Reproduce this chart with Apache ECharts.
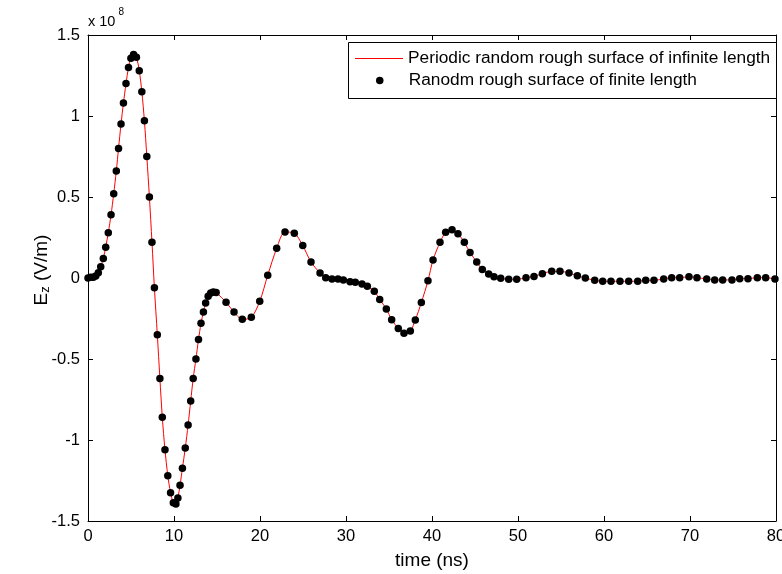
<!DOCTYPE html>
<html>
<head>
<meta charset="utf-8">
<title>E_z vs time</title>
<script src="https://cdn.jsdelivr.net/npm/echarts@6/dist/echarts.min.js"></script>
<style>
  html, body { margin: 0; padding: 0; background: #fff; }
  #chart { width: 782px; height: 574px; }
</style>
</head>
<body>
<div id="chart"></div>
<script>
// Sample times (ns)
const timeNs = [
  0, 0.31, 0.62, 0.9, 1.2, 1.48, 1.78, 2.06, 2.36, 2.68,
  2.99, 3.29, 3.55, 3.84, 4.12, 4.42, 4.71, 4.99, 5.3, 5.63,
  5.96, 6.26, 6.56, 6.84, 7.14, 7.44, 7.72, 8.06, 8.36, 8.64,
  8.95, 9.28, 9.6, 9.92, 10.22, 10.45, 10.7, 10.98, 11.31, 11.64,
  11.94, 12.23, 12.55, 12.85, 13.14, 13.42, 13.68, 13.97, 14.27, 14.57,
  14.9, 16.05, 16.98, 17.94, 18.99, 19.97, 20.9, 21.94, 22.91, 23.99,
  24.97, 25.93, 26.98, 27.64, 28.37, 29.07, 29.69, 30.47, 31.08, 31.86,
  32.48, 33.29, 33.92, 34.69, 35.31, 36.08, 36.74, 37.48, 38.06, 38.76,
  39.53, 40.12, 40.93, 41.59, 42.33, 43.02, 43.76, 44.42, 45.2, 45.85,
  46.59, 47.21, 47.99, 48.92, 49.85, 50.93, 51.86, 52.83, 53.92, 54.88,
  55.93, 56.9, 57.83, 58.92, 59.85, 60.81, 61.86, 62.87, 63.92, 64.85,
  65.81, 66.94, 67.87, 68.8, 69.88, 70.81, 71.94, 72.87, 73.8, 74.88,
  75.78, 76.74, 77.83, 78.8, 79.88
];

// E_z field, in units of 1e8 V/m
const ezE8 = [
  0, 0.004, 0.004, 0.012, 0.033, 0.07, 0.12, 0.19, 0.28, 0.39,
  0.52, 0.66, 0.80, 0.95, 1.08, 1.20, 1.30, 1.356, 1.38, 1.362,
  1.28, 1.15, 0.97, 0.75, 0.50, 0.22, -0.06, -0.35, -0.62, -0.86,
  -1.06, -1.22, -1.325, -1.387, -1.395, -1.358, -1.28, -1.175, -1.05, -0.907,
  -0.76, -0.62, -0.50, -0.38, -0.28, -0.21, -0.155, -0.113, -0.092, -0.086,
  -0.09, -0.15, -0.21, -0.255, -0.243, -0.144, 0.017, 0.183, 0.284, 0.276,
  0.20, 0.099, 0.031, 0.002, -0.006, -0.006, -0.012, -0.023, -0.026, -0.037,
  -0.051, -0.082, -0.132, -0.191, -0.257, -0.311, -0.341, -0.327, -0.259, -0.152,
  -0.017, 0.111, 0.220, 0.282, 0.298, 0.273, 0.220, 0.158, 0.099, 0.053,
  0.025, 0.008, -0.002, -0.008, -0.008, 0.002, 0.010, 0.027, 0.041, 0.041,
  0.031, 0.014, 0.0, -0.014, -0.02, -0.02, -0.02, -0.02, -0.02, -0.014,
  -0.014, -0.006, 0.002, 0.002, 0.008, 0.002, -0.006, -0.012, -0.012, -0.012,
  -0.004, -0.004, 0.002, 0.002, -0.006
];

const xTicks = [0, 10, 20, 30, 40, 50, 60, 70, 80];
const yTicks = [-1.5, -1, -0.5, 0, 0.5, 1, 1.5];

const seriesNames = [
  'Periodic random rough surface of infinite length',
  'Ranodm rough surface of finite length'
];

const points = timeNs.map((t, i) => [t, ezE8[i]]);

const FONT = 'Arial, "Liberation Sans", Helvetica, sans-serif';
const RED = '#ff0000';

const boxAxis = {
  axisLine: { show: true, onZero: false, lineStyle: { color: '#000', width: 1 } },
  axisTick: { show: true, inside: true, length: 5, lineStyle: { color: '#000' } },
  splitLine: { show: false }
};

const legendText = { fontSize: 17.3, fontFamily: FONT, color: '#000' };

const chart = echarts.init(document.getElementById('chart'), null, { renderer: 'canvas' });

chart.setOption({
  backgroundColor: '#fff',
  animation: false,
  textStyle: { fontFamily: FONT },
  grid: { left: 88, right: 6, top: 35, bottom: 53, containLabel: false, outerBoundsMode: 'none' },
  title: {
    text: '{a|x 10}{b|8}',
    left: 88,
    top: 7,
    padding: 0,
    textStyle: {
      fontWeight: 'normal',
      rich: {
        a: { fontSize: 14.5, fontWeight: 'normal', fontFamily: FONT, color: '#000', verticalAlign: 'bottom' },
        b: { fontSize: 10, fontWeight: 'normal', fontFamily: FONT, color: '#000', verticalAlign: 'top', padding: [0, 0, 12, 3] }
      }
    }
  },
  // legend frame
  graphic: [{
    type: 'rect',
    left: 348,
    top: 42,
    z: 10,
    shape: { width: 428, height: 56 },
    style: { fill: '#fff', stroke: '#000', lineWidth: 1 }
  }],
  legend: [
    {
      // line entry: thin red stroke
      orient: 'vertical',
      left: 355,
      top: 50,
      padding: 0,
      z: 20,
      itemWidth: 48,
      itemHeight: 1.2,
      textStyle: legendText,
      data: [{ name: seriesNames[0], icon: 'rect' }]
    },
    {
      // marker entry: black dot
      orient: 'vertical',
      left: 376,
      top: 72,
      padding: 0,
      z: 20,
      itemWidth: 48,
      itemHeight: 7.5,
      textStyle: legendText,
      data: [{ name: seriesNames[1], icon: 'circle' }]
    }
  ],
  xAxis: [
    Object.assign({
      type: 'value',
      min: xTicks[0],
      max: xTicks[xTicks.length - 1],
      interval: 10,
      position: 'bottom',
      name: 'time (ns)',
      nameLocation: 'middle',
      nameGap: 30,
      nameMoveOverlap: false,
      nameTextStyle: { fontSize: 19, fontFamily: FONT, color: '#000' },
      axisLabel: { show: true, margin: 7, fontSize: 16.5, fontFamily: FONT, color: '#000' }
    }, boxAxis),
    Object.assign({
      type: 'value',
      min: xTicks[0],
      max: xTicks[xTicks.length - 1],
      interval: 10,
      position: 'top',
      axisLabel: { show: false }
    }, boxAxis)
  ],
  yAxis: [
    Object.assign({
      type: 'value',
      min: yTicks[0],
      max: yTicks[yTicks.length - 1],
      interval: 0.5,
      position: 'left',
      name: '{e|E}{s|z}{a| (V/m)}',
      nameLocation: 'middle',
      nameGap: 36,
      nameMoveOverlap: false,
      nameRotate: 90,
      nameTextStyle: {
        color: '#000',
        rich: {
          e: { fontSize: 19, fontFamily: FONT, color: '#000', padding: [0, 0, 0, 16] },
          a: { fontSize: 19, fontFamily: FONT, color: '#000' },
          s: { fontSize: 13, fontFamily: FONT, color: '#000', verticalAlign: 'bottom', padding: [8, 0, 0, 0] }
        }
      },
      axisLabel: { show: true, margin: 8, fontSize: 16.5, fontFamily: FONT, color: '#000' }
    }, boxAxis),
    Object.assign({
      type: 'value',
      min: yTicks[0],
      max: yTicks[yTicks.length - 1],
      interval: 0.5,
      position: 'right',
      axisLabel: { show: false }
    }, boxAxis)
  ],
  series: [
    {
      name: seriesNames[0],
      type: 'line',
      xAxisIndex: 0,
      yAxisIndex: 0,
      data: points,
      showSymbol: false,
      symbol: 'none',
      smooth: 0.3,
      lineStyle: { color: RED, width: 1 },
      itemStyle: { color: RED },
      z: 2
    },
    {
      name: seriesNames[1],
      type: 'scatter',
      xAxisIndex: 0,
      yAxisIndex: 0,
      data: points,
      symbol: 'circle',
      symbolSize: 7.5,
      clip: false,
      itemStyle: { color: '#000', opacity: 1 },
      z: 3
    }
  ]
});
</script>
</body>
</html>
